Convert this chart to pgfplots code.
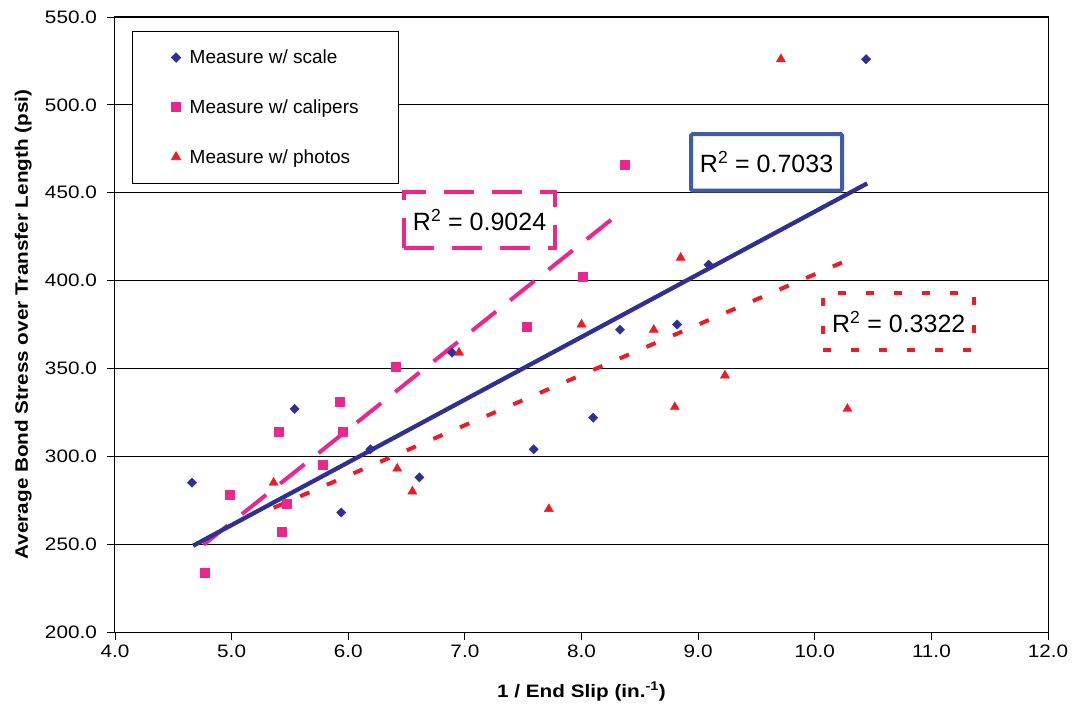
\documentclass[border=0pt]{standalone}
\usepackage{fontspec}
\setmainfont{Liberation Sans}
\newfontfamily\axisfont{Liberation Sans}[FakeStretch=1.15]
\usepackage{pgfplots}
\pgfplotsset{compat=1.18}
\definecolor{cblue}{RGB}{46,49,146}
\definecolor{cpink}{RGB}{236,38,143}
\definecolor{cred}{RGB}{237,28,36}
\definecolor{cboxblue}{RGB}{63,91,169}
\begin{document}
\begin{tikzpicture}
\begin{axis}[
  width=933pt, height=615pt, scale only axis,
  xmin=4, xmax=12, ymin=200, ymax=550,
  xtick={4,5,...,12}, ytick={200,250,...,550},
  tick pos=left, tick align=outside, major tick length=8pt,
  tick style={black, line width=0.8pt},
  axis line style={black, line width=1pt},
  ymajorgrids, grid style={black, line width=0.8pt},
  /pgf/number format/fixed,
  /pgf/number format/fixed zerofill,
  /pgf/number format/precision=1,
  /pgf/number format/assume math mode=true,
  /pgf/number format/1000 sep={},
  ticklabel style={font=\axisfont\fontsize{18}{20}\selectfont, inner sep=0pt},
  xticklabel style={anchor=north, yshift=-5pt},
  yticklabel style={anchor=east, xshift=-10pt},
  xlabel={1 / End Slip (in.\textsuperscript{-1})},
  ylabel={Average Bond Stress over Transfer Length (psi)},
  label style={font=\axisfont\bfseries\fontsize{18}{20}\selectfont},
  xlabel style={at={(axis description cs:0.5,-0.1057)}, anchor=base},
  ylabel style={at={(axis description cs:-0.0933,0.5)}, anchor=base},
  legend style={at={(0.0182,0.9772)}, anchor=north west, draw=black, line width=0.8pt,
    fill=white, font=\fontsize{19}{22}\selectfont, inner xsep=39pt, inner ysep=16.5pt,
    row sep=30.5pt, column sep=7pt},
  legend cell align=left,
]
\addplot[only marks, mark=square*, mark size=3.3pt, color=cblue, mark options={rotate=45}]
coordinates {
(4.66,285) (5.54,327) (5.94,268) (6.19,304) (6.61,288) (6.89,359)
(7.59,304) (8.10,322) (8.33,372) (8.82,375) (9.09,409) (10.44,526)
};
\addlegendentry{\makebox[168pt][l]{Measure w/ scale}}
\addplot[only marks, mark=square*, mark size=4.5pt, color=cpink]
coordinates {
(4.77,234) (4.98,278) (5.40,314) (5.43,257) (5.47,273) (5.78,295)
(5.93,331) (5.95,314) (6.41,351) (7.53,374) (8.01,402) (8.37,466)
};
\addlegendentry{\makebox[168pt][l]{Measure w/ calipers}}
\addplot[only marks, mark=triangle*, mark size=5.3pt, color=cred]
coordinates {
(5.36,285) (6.42,293) (6.55,280) (6.95,359) (7.72,270) (8.00,375)
(8.62,372) (8.80,328) (8.85,413) (9.23,346) (9.71,526) (10.28,327)
};
\addlegendentry{\makebox[168pt][l]{Measure w/ photos}}
% trend lines
\addplot[forget plot, no marks, color=cpink, line width=4pt, dash pattern=on 31pt off 18pt]
coordinates {(4.76,249.7) (8.36,440.2)};
\addplot[forget plot, no marks, color=cred, line width=4pt, dash pattern=on 10pt off 19pt]
coordinates {(5.36,270.7) (10.28,411.6)};
\addplot[forget plot, no marks, color=cblue, line width=4.3pt]
coordinates {(4.67,249.1) (10.45,455.3)};
% R^2 boxes
\node[draw=cboxblue, line width=4pt, rounded corners=1.5pt, fill=white, minimum width=151pt,
  minimum height=56.5pt, inner sep=0pt, font=\fontsize{25}{28}\selectfont]
  at (axis cs:9.587,467.3) {R\textsuperscript{2} = 0.7033};
\node[draw=cpink, line width=4pt, dash pattern=on 30pt off 18pt, fill=white, minimum width=151pt,
  minimum height=56.3pt, inner sep=0pt, font=\fontsize{25}{28}\selectfont]
  at (axis cs:7.126,434.35) {R\textsuperscript{2} = 0.9024};
\node[draw=cred, line width=4pt, dash pattern=on 8pt off 20pt, fill=white, minimum width=151pt,
  minimum height=57.2pt, inner sep=0pt, font=\fontsize{25}{28}\selectfont]
  at (axis cs:10.72,376.5) {R\textsuperscript{2} = 0.3322};
\end{axis}
\path ([xshift=-115pt,yshift=-73pt]current axis.south west) rectangle ([xshift=26pt,yshift=17pt]current axis.north east);
\end{tikzpicture}
\end{document}
